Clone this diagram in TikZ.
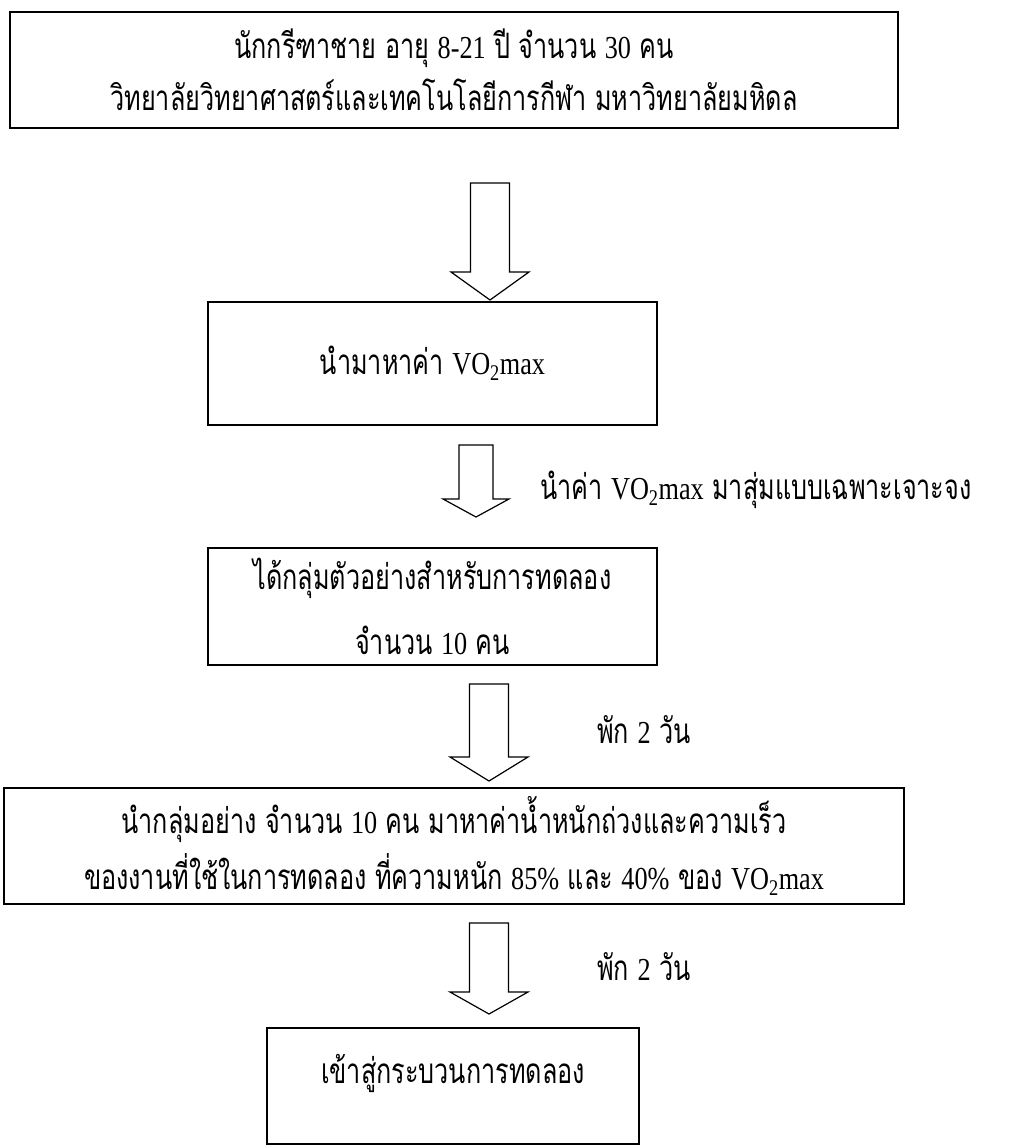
\documentclass[tikz,border=0pt]{standalone}
\usepackage{fontspec}
\newfontfamily\thai[Script=Thai,FakeStretch=0.72]{Loma}
\newfontfamily\lat[FakeStretch=0.82]{Liberation Serif}
\newcommand{\vo}{{\lat\fontsize{32}{32}\selectfont VO\textsubscript{2}max}}
\newcommand{\dg}[1]{{\lat\fontsize{32}{32}\selectfont #1}}

\begin{document}
\begin{tikzpicture}[x=1pt,y=-1pt]
    \tikzstyle{box}=[draw,line width=2.6pt,inner sep=0pt,align=center,font=\thai\fontsize{35}{56}\selectfont]
    \tikzstyle{note}=[anchor=west,inner sep=0pt,font=\thai\fontsize{35}{56}\selectfont]
    \tikzstyle{bigarrow}=[draw,line width=1.2pt,line join=miter]

    \useasboundingbox (0,0) rectangle (1011,1146);

    % the steps
    \node[box,minimum width=888pt,minimum height=116pt] (B-1) at (454,70)
        {นักกรีฑาชาย อายุ \dg{8-21} ปี จำนวน \dg{30} คน\\[-4pt]
         วิทยาลัยวิทยาศาสตร์และเทคโนโลยีการกีฬา มหาวิทยาลัยมหิดล};
    \node[box,minimum width=449pt,minimum height=123pt] (B-2) at (432.5,363.5)
        {นำมาหาค่า \vo};
    \node[box,minimum width=449pt,minimum height=117pt] (B-3) at (432.5,606.5)
        {ได้กลุ่มตัวอย่างสำหรับการทดลอง\\[9pt] จำนวน \dg{10} คน};
    \node[box,minimum width=900pt,minimum height=116pt] (B-4) at (454,846)
        {นำกลุ่มอย่าง จำนวน \dg{10} คน มาหาค่าน้ำหนักถ่วงและความเร็ว\\
         ของงานที่ใช้ในการทดลอง ที่ความหนัก \dg{85\%} และ \dg{40\%} ของ \vo};
    \node[box,minimum width=372pt,minimum height=116pt,text depth=34pt] (B-5) at (453,1086)
        {เข้าสู่กระบวนการทดลอง};

    % the hollow arrows between the steps
    \foreach \x/\top/\base/\tip/\s/\h in {490/183/272/300/19.5/39,
                                        476/445/499/517/17/33,
                                        489/684/757/781/19.5/39,
                                        489/923/992/1014/19.5/39}
        \draw[bigarrow] (\x-\s,\top) -- (\x+\s,\top) -- (\x+\s,\base) -- (\x+\h,\base)
            -- (\x,\tip) -- (\x-\h,\base) -- (\x-\s,\base) -- cycle;

    % notes beside the arrows
    \node[note] (L-2) at (540,490) {นำค่า \vo\ มาสุ่มแบบเฉพาะเจาะจง};
    \node[note] (L-3) at (597,730) {พัก \dg{2} วัน};
    \node[note] (L-4) at (597,967) {พัก \dg{2} วัน};
\end{tikzpicture}
\end{document}
